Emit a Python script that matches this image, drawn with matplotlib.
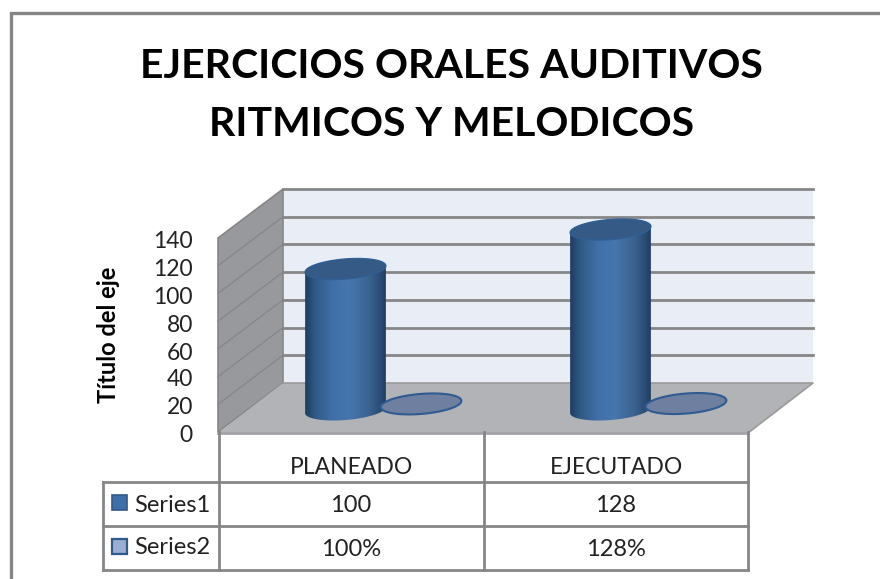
import numpy as np
import matplotlib
matplotlib.use('Agg')
import matplotlib.pyplot as plt
from matplotlib.patches import Polygon, Rectangle
from matplotlib.colors import LinearSegmentedColormap

W, H = 880, 579
GRID = '#868686'

title_lines = ['EJERCICIOS ORALES AUDITIVOS', 'RITMICOS Y MELODICOS']
axis_title = 'Título del eje'
categories = ['PLANEADO', 'EJECUTADO']
series_names = ['Series1', 'Series2']
series1 = [100, 128]
series2 = [1.00, 1.28]
series2_labels = ['100%', '128%']
y_ticks = [0, 20, 40, 60, 80, 100, 120, 140]

plt.rcParams['font.family'] = ['Lato', 'DejaVu Sans']

fig = plt.figure(figsize=(W / 100, H / 100), dpi=100, facecolor='white')

# fondo en pixeles
bg = fig.add_axes([0, 0, 1, 1])
bg.set_xlim(0, W)
bg.set_ylim(H, 0)
bg.axis('off')

# marco
bg.plot([10.5, 10.5, W], [H, 12.5, 12.5], color=GRID, lw=2.4, solid_joinstyle='miter')

# pared del fondo y lineas
bg.add_patch(Rectangle((283, 189), 530, 194, fc='#e9edf6', ec='none'))
back_y = 383 - np.array(y_ticks) * 194 / 140
for y in back_y[1:]:
    bg.plot([283, 813], [y, y], color=GRID, lw=2)

# pared izquierda
bg.add_patch(Polygon([(218, 238), (283, 189), (283, 383), (218, 432)], fc='#97999c', ec=GRID, lw=1.2))
front_y = 432 - np.array(y_ticks) * 194 / 140
for fy, by in zip(front_y[1:-1], back_y[1:-1]):
    bg.plot([218, 283], [fy, by], color='#84868a', lw=0.9)

# piso
bg.add_patch(Polygon([(218, 433), (283, 383), (813, 383), (748, 433)], fc='#b2b3b6', ec='none'))
bg.plot([283, 813, 748], [383, 383, 433], color='#9a9a9a', lw=1.2)
bg.plot([218, 748], [433, 433], color='#a4a5a8', lw=2)

# tabla
ty = [482, 526, 570]
for x in [218.5, 484, 748]:
    bg.plot([x, x], [432, 570], color=GRID, lw=2)
bg.plot([103, 103], [482, 570], color=GRID, lw=2)
for y in ty:
    bg.plot([103, 748], [y, y], color=GRID, lw=2)

# ejes de datos: plano de los cilindros
px0, px1 = 213, 743
y_low = -20
py0, py1 = 410 - y_low * 1.41, 410 - 140 * 1.41
ax = fig.add_axes([px0 / W, 1 - py0 / H, (px1 - px0) / W, (py0 - py1) / H])
ax.axis('off')
ax.patch.set_alpha(0)

xu = 2 / (px1 - px0)
yu = (140 - y_low) / (py0 - py1)


def ellipse(cx, cy, rx=40.5, ry=10.0, tilt=4.7, t0=0, t1=2 * np.pi):
    t = np.linspace(t0, t1, 80)
    a = np.radians(tilt)
    dx = rx * np.cos(t) * np.cos(a) - ry * np.sin(t) * np.sin(a)
    dy = rx * np.cos(t) * np.sin(a) + ry * np.sin(t) * np.cos(a)
    return np.column_stack([cx + dx * xu, cy + dy * yu])


cmap = LinearSegmentedColormap.from_list('cyl', [
    (0.0, '#1e3c60'), (0.12, '#2f5884'), (0.35, '#4170a8'), (0.55, '#4676ae'),
    (0.8, '#3a628f'), (0.93, '#2a4c75'), (1.0, '#1f3d60')])
grad = np.linspace(0, 1, 256).reshape(1, -1)

for i, (v1, v2) in enumerate(zip(series1, series2)):
    cx = i + 0.5
    w = 40.5 * xu
    # la elipse va inclinada: arco de arriba y de abajo
    arc_top = ellipse(cx, v1, t0=0, t1=np.pi)
    arc_bot = ellipse(cx, 0, t0=np.pi, t1=2 * np.pi)
    body = Polygon(np.vstack([arc_top, arc_bot]), closed=True, fc='none', ec='none')
    ax.add_patch(body)
    im = ax.imshow(grad, extent=[cx - w, cx + w, -15, v1 + 15], aspect='auto', cmap=cmap, zorder=2)
    im.set_clip_path(body)
    ax.add_patch(Polygon(ellipse(cx, v1), fc='#345a85', ec='#2f5f96', lw=1, zorder=3))
    # series 2 es casi plana
    dx2 = 75.5 * xu
    ax.add_patch(Polygon(ellipse(cx + dx2, v2 + 3.3), fc='#6f7f9f', ec='#2f5b92', lw=1.5, zorder=3))
ax.set_xlim(0, 2)
ax.set_ylim(y_low, 140)

# textos
bg.text(451.5, 67, title_lines[0], fontsize=29.5, fontweight='bold', ha='center', va='center', color='black')
bg.text(451.5, 124, title_lines[1], fontsize=29.5, fontweight='bold', ha='center', va='center', color='black')
bg.text(109, 335, axis_title, fontsize=17, fontweight='bold', rotation=90, ha='center', va='center', color='black')

tick_px = [435, 408, 380, 353, 325, 297, 270, 242]
for t, y in zip(y_ticks, tick_px):
    bg.text(193, y, str(t), fontsize=16.5, ha='right', va='center', color='#222222')

for name, x in zip(categories, [351, 616]):
    bg.text(x, 468, name, fontsize=16.5, ha='center', va='center', color='#222222')
for i in range(2):
    bg.text(351 + 265 * i, 506, str(series1[i]), fontsize=17, ha='center', va='center', color='#222222')
    bg.text(351 + 265 * i, 549, series2_labels[i], fontsize=17, ha='center', va='center', color='#222222')

bg.add_patch(Rectangle((112, 495), 15, 15, fc='#3f6fa8', ec='#2f5a8c', lw=1.2))
bg.add_patch(Rectangle((112, 539), 15, 15, fc='#9aaed2', ec='#2f5a8c', lw=1.6))
bg.text(134, 505, series_names[0], fontsize=17, ha='left', va='center', color='#222222')
bg.text(134, 548, series_names[1], fontsize=17, ha='left', va='center', color='#222222')

fig.savefig('out.png', dpi=100)
